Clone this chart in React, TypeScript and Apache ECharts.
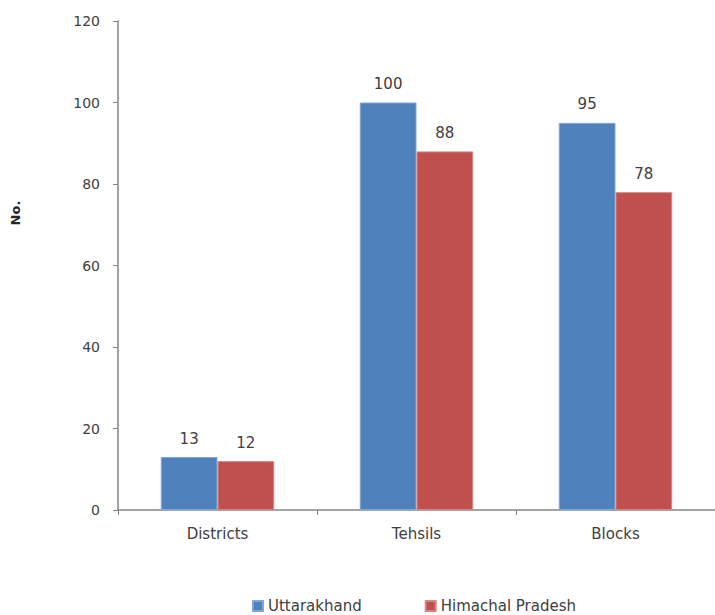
import React, { useEffect, useRef } from "react";
import * as echarts from "echarts";

const categories = ["Districts", "Tehsils", "Blocks"];
const uttarakhand = [13, 100, 95];
const himachal = [12, 88, 78];
const seriesNames = ["Uttarakhand", "Himachal Pradesh"];

export default function App() {
  const ref = useRef<HTMLDivElement>(null);
  useEffect(() => {
    if (!ref.current) return;
    const chart = echarts.init(ref.current, undefined, { renderer: "svg" });
    const font = "'DejaVu Sans', sans-serif";
    chart.setOption({
      animation: false,
      textStyle: { fontFamily: font },
      grid: { left: 118, right: 0, top: 21, bottom: 105, containLabel: false },
      legend: {
        top: 593,
        left: 247,
        itemWidth: 10,
        itemHeight: 10,
        itemGap: 63,
        icon: "rect",
        textStyle: { fontFamily: font, fontSize: 15, lineHeight: 16, color: "#404040" },
        data: seriesNames,
      },
      graphic: [
        {
          type: "text",
          x: 15,
          y: 213,
          rotation: Math.PI / 2,
          style: {
            text: "No.",
            font: `bold 13px ${font}`,
            fill: "#262626",
            textAlign: "center",
            textVerticalAlign: "middle",
          },
        },
      ],
      xAxis: {
        type: "category",
        data: categories,
        axisLine: { lineStyle: { color: "#868686", width: 1.5 } },
        axisTick: { show: true, alignWithLabel: false, length: 5, inside: false, lineStyle: { color: "#868686" } },
        axisLabel: { color: "#404040", fontSize: 15, margin: 16, fontFamily: font },
      },
      yAxis: {
        type: "value",
        min: 0,
        max: 120,
        interval: 20,
        splitLine: { show: false },
        axisLine: { show: true, lineStyle: { color: "#868686", width: 1.5 } },
        axisTick: { show: true, length: 5, lineStyle: { color: "#868686" } },
        axisLabel: { color: "#404040", fontSize: 14, margin: 18, fontFamily: font },
      },
      series: [
        {
          name: seriesNames[0],
          type: "bar",
          data: uttarakhand,
          barGap: "0%",
          barCategoryGap: "43%",
          itemStyle: { color: "#4F81BD", borderColor: "#7FA6D6", borderWidth: 1 },
          label: { show: true, position: "top", distance: 11, color: "#404040", fontSize: 15, fontFamily: font },
        },
        {
          name: seriesNames[1],
          type: "bar",
          data: himachal,
          barGap: "0%",
          barCategoryGap: "43%",
          itemStyle: { color: "#C0504D", borderColor: "#D98583", borderWidth: 1 },
          label: { show: true, position: "top", distance: 11, color: "#404040", fontSize: 15, fontFamily: font },
        },
      ],
    });
    return () => chart.dispose();
  }, []);
  return <div ref={ref} style={{ width: 715, height: 615, position: "absolute", left: 0, top: 0 }} />;
}
